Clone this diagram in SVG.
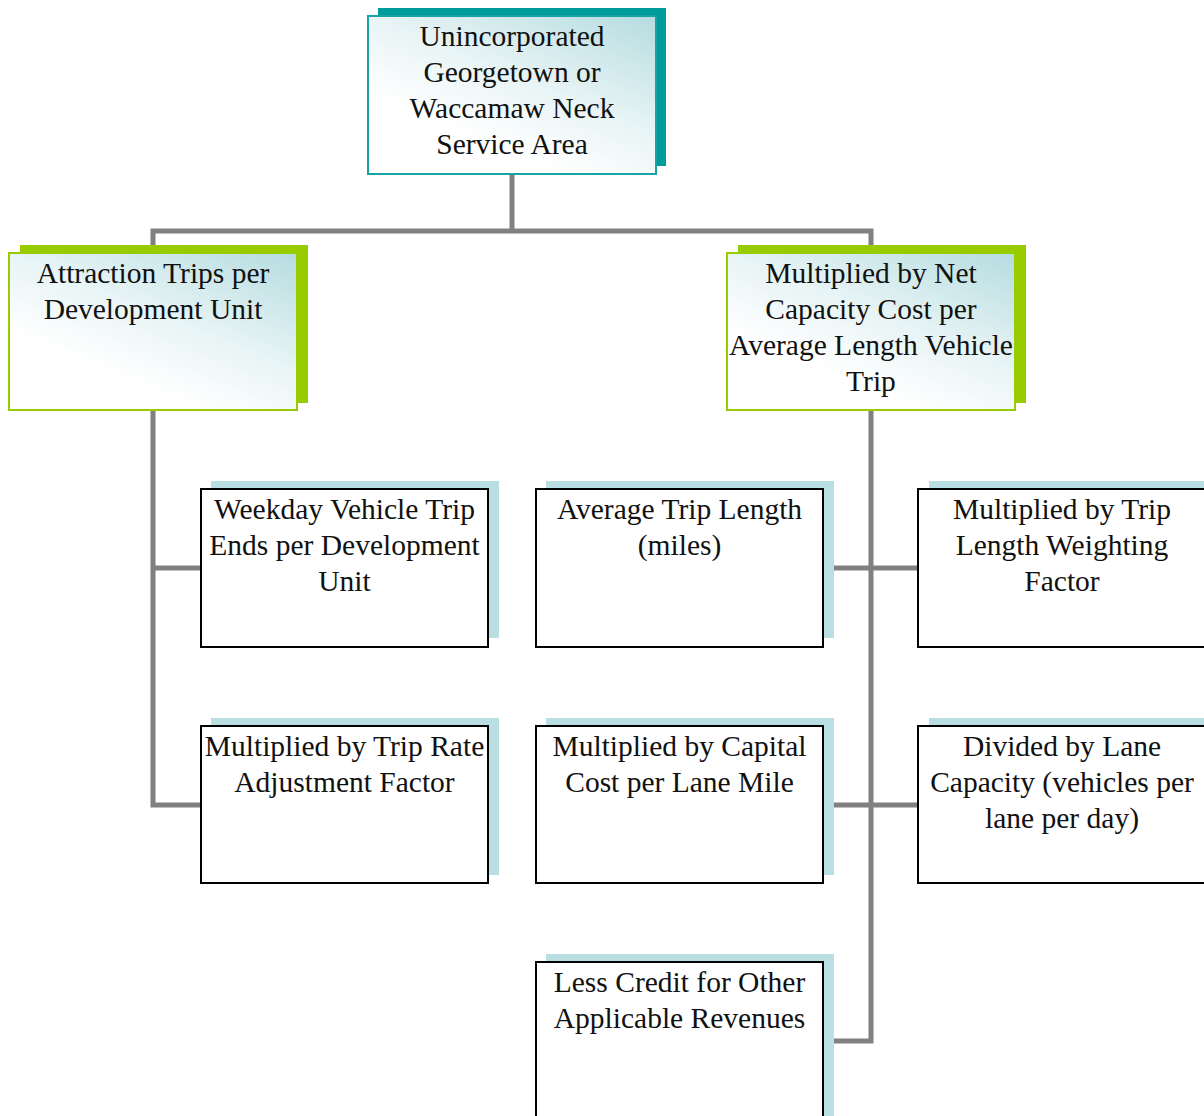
<svg xmlns="http://www.w3.org/2000/svg" width="1204" height="1116" viewBox="0 0 1204 1116">
<style>
text{font-family:"Liberation Serif","Times New Roman",serif;font-size:29.5px;fill:#111;text-anchor:middle}
.conn{fill:none;stroke:#808080;stroke-width:5}
.tealsh{fill:#009b9b}
.greensh{fill:#99cc00}
.lsh{fill:#b9dfe2}
.teal{fill:url(#g);stroke:#1aa3a3;stroke-width:2}
.green{fill:url(#g);stroke:#99cc00;stroke-width:2}
.box{fill:#fff;stroke:#000;stroke-width:2}
</style>
<defs>
<linearGradient id="g" x1="1" y1="0" x2="0.4" y2="0.8">
<stop offset="0" stop-color="#b5dce0"/>
<stop offset="0.6" stop-color="#e8f4f5"/>
<stop offset="1" stop-color="#ffffff"/>
</linearGradient>
</defs>
<rect width="1204" height="1116" fill="#fff"/>
<g id="connectors">
<path class="conn" d="M512,174 V231 M153,253 V231 H871 V253"/>
<path class="conn" d="M153,410 V805 H201 M153,568 H201"/>
<path class="conn" d="M871,410 V1041 H823 M823,568 H918 M823,805 H918"/>
</g>
<g id="n-root">
<rect class="tealsh" x="378" y="8" width="288" height="158"/>
<rect class="teal" x="368" y="16" width="288" height="158"/>
<text x="512" y="46">Unincorporated</text>
<text x="512" y="82">Georgetown or</text>
<text x="512" y="118">Waccamaw Neck</text>
<text x="512" y="154">Service Area</text>
</g>
<g id="n-attraction">
<rect class="greensh" x="20" y="245" width="288" height="158"/>
<rect class="green" x="9" y="253" width="288" height="157"/>
<text x="153" y="283">Attraction Trips per</text>
<text x="153" y="319">Development Unit</text>
</g>
<g id="n-netcost">
<rect class="greensh" x="738" y="245" width="288" height="158"/>
<rect class="green" x="727" y="253" width="288" height="157"/>
<text x="871" y="283">Multiplied by Net</text>
<text x="871" y="319">Capacity Cost per</text>
<text x="871" y="355">Average Length Vehicle</text>
<text x="871" y="391">Trip</text>
</g>
<g id="n-weekday">
<rect class="lsh" x="211" y="481" width="288" height="157"/>
<rect class="box" x="201" y="489" width="287" height="158"/>
<text x="344.5" y="519">Weekday Vehicle Trip</text>
<text x="344.5" y="555">Ends per Development</text>
<text x="344.5" y="591">Unit</text>
</g>
<g id="n-triprate">
<rect class="lsh" x="211" y="718" width="288" height="157"/>
<rect class="box" x="201" y="726" width="287" height="157"/>
<text x="344.5" y="756">Multiplied by Trip Rate</text>
<text x="344.5" y="792">Adjustment Factor</text>
</g>
<g id="n-avglength">
<rect class="lsh" x="546" y="481" width="288" height="157"/>
<rect class="box" x="536" y="489" width="287" height="158"/>
<text x="679.5" y="519">Average Trip Length</text>
<text x="679.5" y="555">(miles)</text>
</g>
<g id="n-capital">
<rect class="lsh" x="546" y="718" width="288" height="157"/>
<rect class="box" x="536" y="726" width="287" height="157"/>
<text x="679.5" y="756">Multiplied by Capital</text>
<text x="679.5" y="792">Cost per Lane Mile</text>
</g>
<g id="n-credit">
<rect class="lsh" x="546" y="954" width="288" height="170"/>
<rect class="box" x="536" y="962" width="287" height="170"/>
<text x="679.5" y="992">Less Credit for Other</text>
<text x="679.5" y="1028">Applicable Revenues</text>
</g>
<g id="n-weighting">
<rect class="lsh" x="929" y="481" width="288" height="157"/>
<rect class="box" x="918" y="489" width="288" height="158"/>
<text x="1062" y="519">Multiplied by Trip</text>
<text x="1062" y="555">Length Weighting</text>
<text x="1062" y="591">Factor</text>
</g>
<g id="n-lanecap">
<rect class="lsh" x="929" y="718" width="288" height="157"/>
<rect class="box" x="918" y="726" width="288" height="157"/>
<text x="1062" y="756">Divided by Lane</text>
<text x="1062" y="792">Capacity (vehicles per</text>
<text x="1062" y="828">lane per day)</text>
</g>
</svg>
